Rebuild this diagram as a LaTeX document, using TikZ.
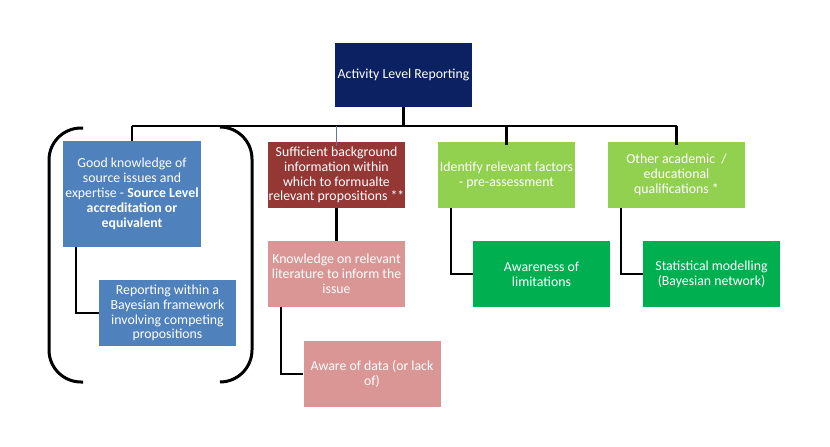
\documentclass[tikz,border=0pt]{standalone}
\usepackage{fontspec}
\setmainfont{Carlito}
\definecolor{navy}{RGB}{12,33,98}
\definecolor{mblue}{RGB}{79,129,189}
\definecolor{dred}{RGB}{149,55,53}
\definecolor{pinkc}{RGB}{217,150,148}
\definecolor{lgreen}{RGB}{146,208,80}
\definecolor{dgreen}{RGB}{0,176,80}
\definecolor{steel}{RGB}{90,120,160}
\begin{document}
\begin{tikzpicture}[x=1pt,y=-1pt,
  box/.style={inner sep=0pt, minimum width=137pt, minimum height=66pt, align=center,
    text=white, font=\fontsize{13.8}{14.8}\selectfont},
  link/.style={line width=2.6pt, black},
  brk/.style={line width=3pt, black, rounded corners=32pt}]
\useasboundingbox (0,0) rectangle (830,447);
\fill[white] (0,0) rectangle (830,447);

\node[box, fill=navy, minimum height=64pt] (top) at (403.5,75) {Activity Level Reporting};

\node[box, fill=mblue, minimum width=138pt, minimum height=106pt, font=\fontsize{13.8}{15}\selectfont] (b1) at (132,194)
  {Good knowledge of\\source issues and\\expertise - \textbf{Source Level}\\\textbf{accreditation or}\\\textbf{equivalent}};
\node[box, fill=mblue] (b2) at (167.5,313)
  {Reporting within a\\Bayesian framework\\involving competing\\propositions};

\node[box, fill=dred] (r1) at (336.5,175)
  {Sufficient background\\information within\\which to formualte\\relevant propositions **};
\node[box, fill=pinkc] (p1) at (336.5,274)
  {Knowledge on relevant\\literature to inform the\\issue};
\node[box, fill=pinkc] (p2) at (372,374)
  {Aware of data (or lack\\of)};

\node[box, fill=lgreen] (g1) at (506.5,175)
  {Identify relevant factors\\- pre-assessment};
\node[box, fill=dgreen] (g2) at (541.5,274)
  {Awareness of\\limitations};

\node[box, fill=lgreen] (g3) at (676.5,175)
  {Other academic \ /\\educational\\qualifications *};
\node[box, fill=dgreen] (g4) at (711.5,274)
  {Statistical modelling\\(Bayesian network)};

% bus
\coordinate (busL) at (132,126);
\coordinate (busR) at (677,126);
\draw[link] (busL) -- (busR);
\draw[link] (top.south) -- (top.south |- busL);
\draw[link] (b1.north |- busL) -- (b1.north);
\draw[line width=1.5pt, steel] (r1.north |- busL) -- ([yshift=-4pt]r1.north);
\draw[link] (g1.north |- busL) -- ([yshift=-3pt]g1.north);
\draw[link] (g3.north |- busL) -- ([yshift=-3pt]g3.north);

% children
\draw[link] ([xshift=-56pt]b1.south) |- (b2.west);
\draw[link] (r1.south) -- (p1.north);
\draw[link] ([xshift=-55.5pt]p1.south) |- (p2.west);
\draw[link] ([xshift=-55.5pt]g1.south) |- (g2.west);
\draw[link] ([xshift=-55.5pt]g3.south) |- (g4.west);

% brackets
\draw[brk] (83,128) -- (49,128) -- (49,382) -- (83,382);
\draw[brk] (220,127) -- (252,127) -- (252,382) -- (220,382);
\end{tikzpicture}
\end{document}
